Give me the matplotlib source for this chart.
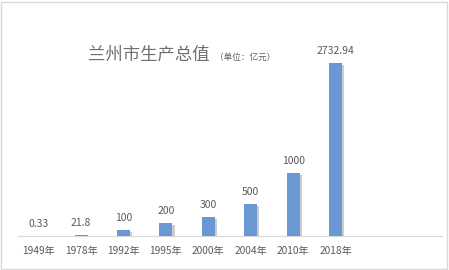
import matplotlib
matplotlib.use("Agg")
import matplotlib.pyplot as plt
import matplotlib.patheffects as pe
from matplotlib.patches import Rectangle

plt.rcParams['font.family'] = ['Noto Sans CJK SC', 'DejaVu Sans']

categories = ["1949年", "1978年", "1992年", "1995年", "2000年", "2004年", "2010年", "2018年"]
values = [0.33, 21.8, 100, 200, 300, 500, 1000, 2732.94]
labels = ["0.33", "21.8", "100", "200", "300", "500", "1000", "2732.94"]

W, H = 449, 270
fig = plt.figure(figsize=(W / 100, H / 100), dpi=100)
fig.patch.set_facecolor("white")

ax_left, ax_right = 17.5 / W, 441.5 / W
ax_bottom, ax_top = 1 - 236 / H, 1 - 40 / H
ax = fig.add_axes([ax_left, ax_bottom, ax_right - ax_left, ax_top - ax_bottom])

x = list(range(len(categories)))
bars = ax.bar(x, values, width=0.31, color="#6B98D2", zorder=3)
for b in bars:
    b.set_path_effects([pe.SimplePatchShadow(offset=(1.5, -1.5), shadow_rgbFace="#9a9a9a", alpha=0.5), pe.Normal()])

ax.set_xlim(-0.5, 9.5)
ax.set_ylim(0, 3096)

for xi, v, lab in zip(x, values, labels):
    ax.annotate(lab, (xi, v), xytext=(0, 5), textcoords="offset points",
                ha="center", va="bottom", fontsize=7.5, color="#595959")

ax.set_xticks(x)
ax.set_xticklabels(categories, fontsize=7.3, color="#595959")
ax.tick_params(axis="x", length=0, pad=7)
ax.set_yticks([])
for s in ["top", "right", "left"]:
    ax.spines[s].set_visible(False)
ax.spines["bottom"].set_color("#D9D9D9")
ax.spines["bottom"].set_linewidth(0.8)

fig.text(88 / W, 1 - 55 / H, "兰州市生产总值", fontsize=12.5, color="#6F6F6F",
         ha="left", va="center", fontweight="medium")
fig.text(215 / W, 1 - 57 / H, "（单位：亿元）", fontsize=6.2, color="#5F5F5F",
         ha="left", va="center")

fig.patches.append(Rectangle((1 / W, 1 / H), 1 - 3 / W, 1 - 3 / H, transform=fig.transFigure,
                             fill=False, edgecolor="#D9D9D9", linewidth=1.0))

fig.savefig("out.png", dpi=100)
